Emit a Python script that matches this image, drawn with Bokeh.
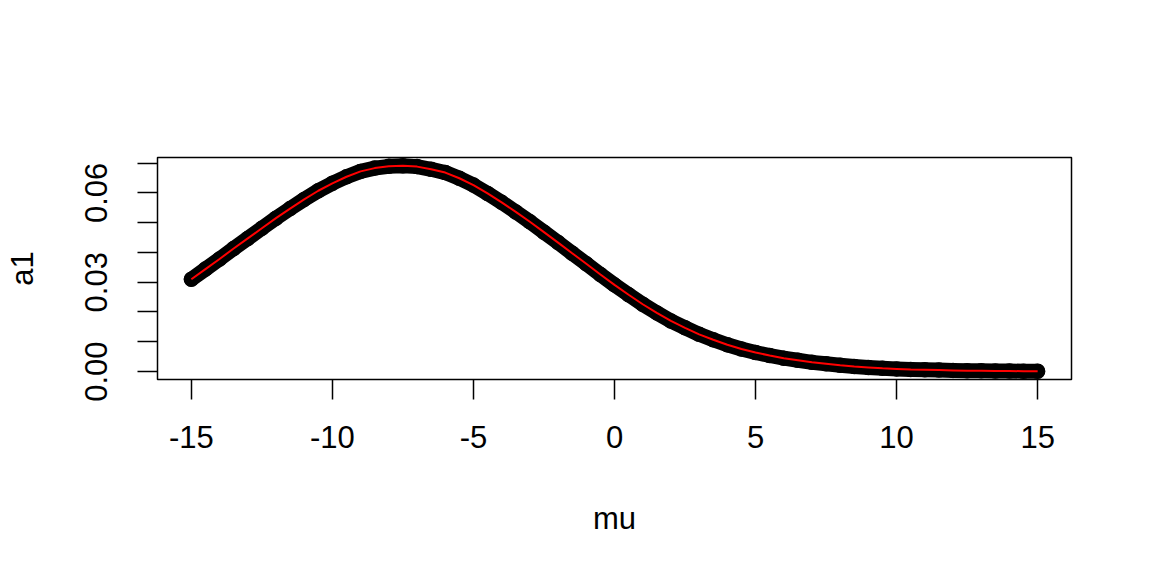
from bokeh.plotting import figure
from bokeh.models import Range1d, FixedTicker, PrintfTickFormatter
from bokeh.embed import file_html
from bokeh.resources import INLINE

# ---- data ----
mu = [-15.0, -14.5, -14.0, -13.5, -13.0, -12.5, -12.0, -11.5, -11.0, -10.5,
      -10.0, -9.5, -9.0, -8.5, -8.0, -7.5, -7.0, -6.5, -6.0, -5.5,
      -5.0, -4.5, -4.0, -3.5, -3.0, -2.5, -2.0, -1.5, -1.0, -0.5,
      0.0, 0.5, 1.0, 1.5, 2.0, 2.5, 3.0, 3.5, 4.0, 4.5,
      5.0, 5.5, 6.0, 6.5, 7.0, 7.5, 8.0, 8.5, 9.0, 9.5,
      10.0, 10.5, 11.0, 11.5, 12.0, 12.5, 13.0, 13.5, 14.0, 14.5, 15.0]
a1 = [0.0310, 0.0344, 0.0378, 0.0413, 0.0447, 0.0481, 0.0515, 0.0547, 0.0578, 0.0607,
      0.0632, 0.0654, 0.0672, 0.0683, 0.0689, 0.0691, 0.0688, 0.0679, 0.0668, 0.0649,
      0.0626, 0.0598, 0.0568, 0.0536, 0.0503, 0.0468, 0.0433, 0.0397, 0.0362, 0.0326,
      0.0291, 0.0258, 0.0226, 0.0197, 0.0170, 0.0147, 0.0125, 0.0107, 0.0090, 0.0076,
      0.0064, 0.0054, 0.0045, 0.0038, 0.0031, 0.0026, 0.0021, 0.0017, 0.0014, 0.0011,
      0.0009, 0.0007, 0.0006, 0.0005, 0.0004, 0.0003, 0.0003, 0.0002, 0.0002, 0.0001, 0.0001]
x_ticks = [-15, -10, -5, 0, 5, 10, 15]
y_major_ticks = [0.0, 0.03, 0.06]
y_minor_ticks = [0.01, 0.02, 0.04, 0.05, 0.07]
x_label = "mu"
y_label = "a1"


def padded(v, frac=0.04):
    lo, hi = min(v), max(v)
    d = (hi - lo) * frac
    return lo - d, hi + d


FONT = "Liberation Sans"
FS = "31px"

p = figure(width=1152, height=576, output_backend="svg", toolbar_location=None,
           x_range=Range1d(*padded(mu)), y_range=Range1d(*padded(a1)),
           min_border_left=157, min_border_right=81, min_border_top=157,
           min_border_bottom=197)
p.background_fill_color = "white"
p.border_fill_color = "white"
p.outline_line_color = "black"
p.outline_line_width = 1.5
p.xgrid.visible = False
p.ygrid.visible = False

# band of open circles (dense in the original), then the red line
p.line(mu, a1, line_width=15, line_color="black", line_cap="round", line_join="round")
p.scatter(mu, a1, marker="circle", size=14, fill_color=None, line_color="black", line_width=1.5)
p.line(mu, a1, line_width=2, line_color="#FF0000")

for ax in (p.xaxis[0], p.yaxis[0]):
    ax.axis_line_color = None
    ax.major_tick_in = 0
    ax.major_tick_out = 20
    ax.minor_tick_in = 0
    ax.minor_tick_out = 20
    ax.major_tick_line_width = 1.5
    ax.minor_tick_line_width = 1.5
    ax.major_tick_line_color = "black"
    ax.minor_tick_line_color = "black"
    ax.major_label_text_font = FONT
    ax.major_label_text_font_size = FS
    ax.major_label_text_color = "black"
    ax.axis_label_text_font = FONT
    ax.axis_label_text_font_size = FS
    ax.axis_label_text_font_style = "normal"
    ax.axis_label_text_color = "black"

p.xaxis.ticker = FixedTicker(ticks=x_ticks, minor_ticks=[])
p.xaxis.formatter = PrintfTickFormatter(format="%d")
p.xaxis.axis_label = x_label
p.xaxis.major_label_standoff = 26
p.xaxis.axis_label_standoff = 50

p.yaxis.ticker = FixedTicker(ticks=y_major_ticks, minor_ticks=y_minor_ticks)
p.yaxis.formatter = PrintfTickFormatter(format="%.2f")
p.yaxis.axis_label = y_label
p.yaxis.major_label_orientation = "vertical"
p.yaxis.major_label_standoff = 30
p.yaxis.axis_label_standoff = 43

open("out.html", "w").write(file_html(p, INLINE))
